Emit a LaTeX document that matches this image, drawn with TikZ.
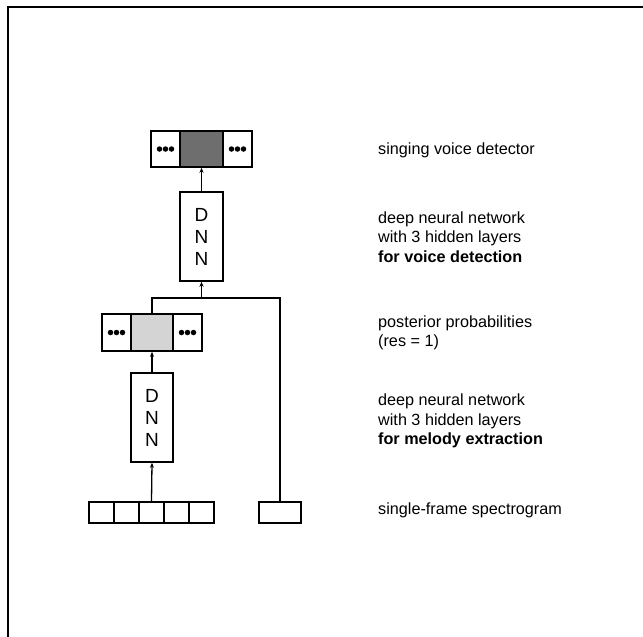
\documentclass[tikz,border=0pt]{standalone}
\usepackage{fontspec}
\setmainfont{Liberation Sans}
\usetikzlibrary{arrows.meta}
\begin{document}
\begin{tikzpicture}[x=1pt,y=-1pt,
  box/.style={draw=black,line width=1.5pt,rectangle,inner sep=0pt},
  conn/.style={line width=1.3pt},
  arr/.style={conn,-{Stealth[length=5pt,width=4pt]}},
  dnnbox/.style={box,fill=white,minimum width=43pt,minimum height=89pt,font=\fontsize{19}{22}\selectfont,align=center},
  lbl/.style={anchor=west,align=left,inner sep=0pt,font=\fontsize{16.2}{19.5}\selectfont},
  dot/.style={circle,fill=black,inner sep=0pt,minimum size=5.5pt}]
\useasboundingbox (0,0) rectangle (643,637);
% frame
\draw[line width=1.3pt] (8,637) -- (8,7) -- (643,7);

% singing voice detector
\node[box,minimum width=29pt,minimum height=36pt] (detL) at (165.5,149) {};
\node[box,fill=black!57,minimum width=43pt,minimum height=36pt] (detM) at (201.5,149) {};
\node[box,minimum width=29pt,minimum height=36pt] (detR) at (237.5,149) {};
\foreach \n in {detL,detR}{
  \node[dot] at ([xshift=-6pt]\n.center) {};
  \node[dot] at (\n.center) {};
  \node[dot] at ([xshift=6pt]\n.center) {};
}

% upper DNN
\node[dnnbox] (dnn2) at (201.5,236.5) {D\\N\\N};

% posterior probabilities
\node[box,minimum width=29pt,minimum height=37pt] (postL) at (116.5,332.5) {};
\node[box,fill=black!17,minimum width=42pt,minimum height=37pt] (postM) at (152,332.5) {};
\node[box,minimum width=29pt,minimum height=37pt] (postR) at (187.5,332.5) {};
\foreach \n in {postL,postR}{
  \node[dot] at ([xshift=-6pt]\n.center) {};
  \node[dot] at (\n.center) {};
  \node[dot] at ([xshift=6pt]\n.center) {};
}

% lower DNN
\node[dnnbox,minimum width=42pt] (dnn1) at (152,417.5) {D\\N\\N};

% spectrogram input
\foreach \i in {1,...,5}{
  \node[box,minimum width=25pt,minimum height=21pt] (in\i) at ({89+25*(\i-0.5)},512.5) {};
}
\node[box,minimum width=42pt,minimum height=21pt] (single) at (280,512.5) {};

% connectors
\coordinate (jl) at (152,298);
\coordinate (jm) at (201.5,298);
\coordinate (jr) at (280,298);
\draw[arr] (in3.north) -- (dnn1.south);
\draw[arr] (dnn1.north) -- (postM.south);
\draw[conn] (postM.north) -- (jl) -- (jr) -- (single.north);
\draw[arr] (jm) -- (dnn2.south);
\draw[arr] (dnn2.north) -- (detM.south);

% labels
\node[lbl] (t1) at (378,150) {singing voice detector};
\node[lbl] (t2) at (378,237) {deep neural network\\with 3 hidden layers\\\textbf{for voice detection}};
\node[lbl] (t3) at (378,333) {posterior probabilities\\(res = 1)};
\node[lbl] (t4) at (378,421) {deep neural network\\with 3 hidden layers\\\textbf{for melody extraction}};
\node[lbl] (t5) at (378,510) {single-frame spectrogram};
\end{tikzpicture}
\end{document}
